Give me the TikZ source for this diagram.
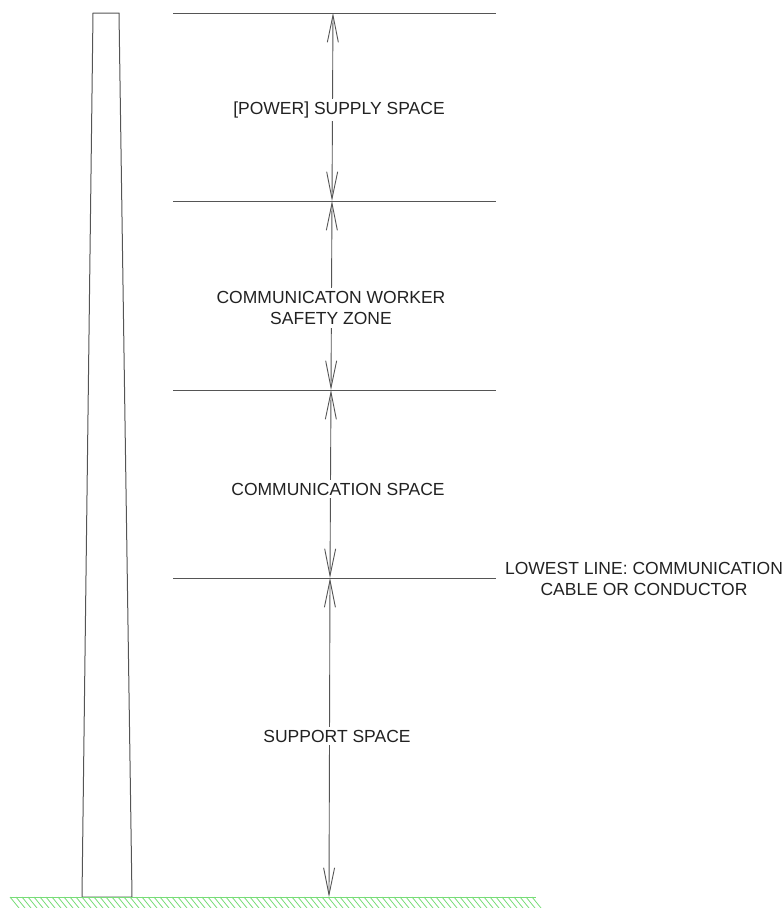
\documentclass[tikz,border=0pt]{standalone}
\usepackage{fontspec}
\setmainfont{Liberation Sans}
\usetikzlibrary{arrows.meta}
\definecolor{linegray}{HTML}{555555}
\definecolor{groundgreen}{HTML}{77DD77}
\definecolor{textdark}{HTML}{222222}
\tikzset{
  level/.style={draw=linegray, line width=0.9pt},
  dim/.style={draw=linegray, line width=0.9pt, {Straight Barb[length=27pt,width=11pt,line width=0.9pt]}-{Straight Barb[length=27pt,width=11pt,line width=0.9pt]}},
  label/.style={font=\fontsize{17.5}{21}\selectfont, text=textdark, align=center, inner sep=0pt},
  gap/.style={fill=white, inner sep=3pt},
}
\begin{document}
\begin{tikzpicture}[x=1pt,y=-1pt]
\useasboundingbox (0,0) rectangle (782,908);
% pole
\draw[linegray, line width=1pt] (82,897) -- (93,13) -- (119,13) -- (132,897) -- cycle;
% level lines
\coordinate (l0a) at (173,13);  \coordinate (l0b) at (496,13);
\coordinate (l1a) at (173,201); \coordinate (l1b) at (496,201);
\coordinate (l2a) at (173,390); \coordinate (l2b) at (496,390);
\coordinate (l3a) at (173,578); \coordinate (l3b) at (496,578);
\draw[level] (l0a) -- (l0b);
\draw[level] (l1a) -- (l1b);
\draw[level] (l2a) -- (l2b);
\draw[level] (l3a) -- (l3b);
% dimension points
\coordinate (d0) at (333,13);
\coordinate (d1) at (332,201);
\coordinate (d2) at (331,390);
\coordinate (d3) at (330,578);
\coordinate (d4) at (329,897);
\draw[dim] (d0) -- (d1);
\draw[dim] (d1) -- (d2);
\draw[dim] (d2) -- (d3);
\draw[dim] (d3) -- (d4);
% ground
\draw[groundgreen, line width=1pt] (10,897) -- (536,897);
\foreach \x in {10,16,...,532} {
  \draw[groundgreen, line width=0.8pt] (\x,897) -- (\x+9,908);
}
% labels
\node[label, gap] (t1) at (339,110) {[POWER] SUPPLY SPACE};
\node[label, gap] (t2) at (331,308) {COMMUNICATON WORKER\\SAFETY ZONE};
\node[label, gap] (t3) at (338,489) {COMMUNICATION SPACE};
\node[label, gap] (t4) at (337,736) {SUPPORT SPACE};
\node[label] (t5) at (644,579) {LOWEST LINE: COMMUNICATION\\CABLE OR CONDUCTOR};
\end{tikzpicture}
\end{document}
